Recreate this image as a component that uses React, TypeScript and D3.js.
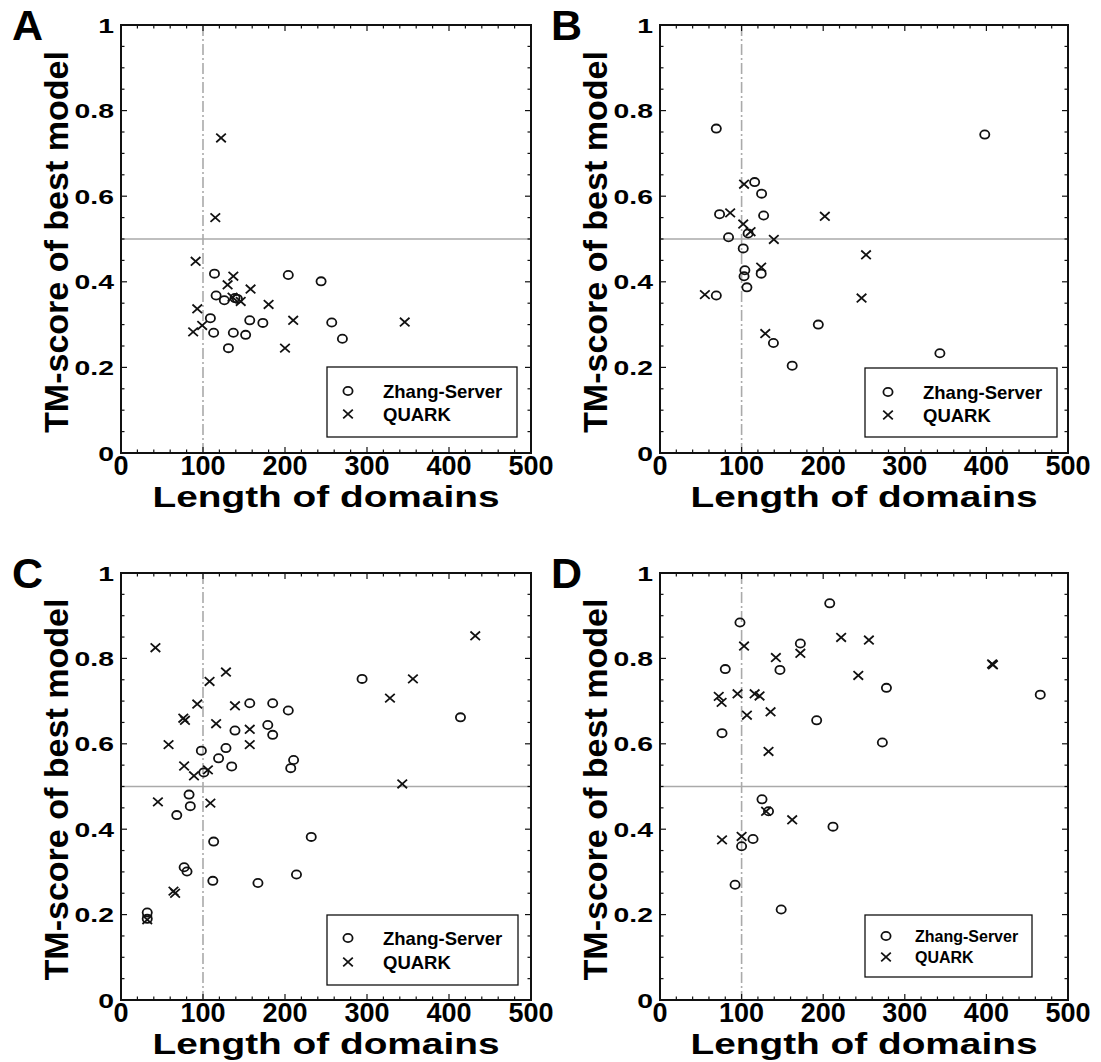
import React from "react";
import * as d3 from "d3";

// ---- data: [domain length, TM-score] ----
const zhangA: [number, number][] = [
  [114, 0.419], [204, 0.416], [244, 0.401], [116, 0.368], [126, 0.357], [139, 0.362], [142, 0.36],
  [109, 0.315], [113, 0.281], [157, 0.31], [173, 0.304], [257, 0.305], [270, 0.267], [137, 0.281],
  [152, 0.276], [131, 0.245],
];
const quarkA: [number, number][] = [
  [122, 0.736], [115, 0.55], [91, 0.448], [137, 0.413], [130, 0.393], [158, 0.383], [136, 0.364],
  [146, 0.354], [180, 0.347], [93, 0.337], [99, 0.298], [88, 0.283], [210, 0.31], [200, 0.245], [346, 0.306],
];
const zhangB: [number, number][] = [
  [69, 0.758], [398, 0.744], [116, 0.633], [124.5, 0.606], [73, 0.558], [127, 0.555], [108, 0.513],
  [84, 0.504], [102, 0.478], [104, 0.427], [124, 0.419], [103, 0.413], [106.5, 0.387], [69, 0.368],
  [194, 0.3], [139, 0.257], [162, 0.204], [343, 0.233],
];
const quarkB: [number, number][] = [
  [103, 0.628], [86, 0.561], [202, 0.553], [102, 0.535], [111, 0.517], [139.5, 0.499], [252.5, 0.463],
  [124, 0.434], [55, 0.37], [247, 0.362], [129, 0.279],
];
const zhangC: [number, number][] = [
  [294, 0.752], [157, 0.695], [185, 0.695], [204, 0.678], [414, 0.662], [179, 0.644], [139, 0.631],
  [185, 0.621], [128, 0.59], [98, 0.584], [119, 0.566], [210.5, 0.562], [135, 0.547], [207, 0.543],
  [101, 0.533], [83, 0.481], [84.5, 0.454], [68, 0.433], [113, 0.371], [232, 0.382], [77, 0.311],
  [80.5, 0.301], [112, 0.279], [167, 0.274], [214, 0.294], [32, 0.205], [32, 0.19],
];
const quarkC: [number, number][] = [
  [42, 0.825], [432, 0.853], [128, 0.768], [108, 0.746], [356, 0.752], [328, 0.707], [93, 0.693],
  [139, 0.689], [76, 0.66], [78, 0.655], [116, 0.647], [157, 0.634], [58, 0.598], [157, 0.598],
  [77, 0.548], [106, 0.539], [89, 0.525], [343, 0.506], [45, 0.464], [109, 0.461], [64, 0.255],
  [66, 0.25], [32, 0.188],
];
const zhangD: [number, number][] = [
  [208, 0.929], [98, 0.884], [172, 0.835], [80, 0.775], [147, 0.773], [277.5, 0.731], [466, 0.715],
  [192, 0.655], [76, 0.625], [272.5, 0.603], [125, 0.47], [133, 0.442], [212, 0.406], [114, 0.377],
  [100, 0.36], [92, 0.27], [148.5, 0.212],
];
const quarkD: [number, number][] = [
  [103, 0.829], [222, 0.849], [256, 0.843], [172, 0.812], [142, 0.802], [407, 0.787], [408, 0.785],
  [243, 0.76], [72, 0.711], [95, 0.717], [116, 0.717], [122, 0.712], [75.5, 0.697], [106.5, 0.667],
  [135.5, 0.675], [133, 0.582], [130, 0.442], [162, 0.422], [76, 0.375], [100, 0.383],
];

const xTicks = [0, 100, 200, 300, 400, 500];
const yTicks = [0, 0.2, 0.4, 0.6, 0.8, 1];
const yTickLabels = ["0", "0.2", "0.4", "0.6", "0.8", "1"];
const seriesNames = ["Zhang-Server", "QUARK"];
const xLabel = "Length of domains";
const yLabel = "TM-score of best model";
const thresholdY = 0.5;
const thresholdX = 100;

type Panel = {
  letter: string; left: number; top: number; w: number; h: number;
  zhang: [number, number][]; quark: [number, number][];
  legend: { x: number; y: number; w: number; h: number; font: number; tx: number; mx: number; r1: number; r2: number };
};

const panels: Panel[] = [
  { letter: "A", left: 121, top: 25, w: 410, h: 428, zhang: zhangA, quark: quarkA,
    legend: { x: 327, y: 367, w: 190, h: 70, font: 18.5, tx: 383, mx: 348, r1: 391, r2: 414 } },
  { letter: "B", left: 660, top: 25, w: 408, h: 428, zhang: zhangB, quark: quarkB,
    legend: { x: 865, y: 368, w: 192, h: 69, font: 18.5, tx: 923, mx: 888, r1: 392, r2: 415 } },
  { letter: "C", left: 121, top: 573, w: 410, h: 427, zhang: zhangC, quark: quarkC,
    legend: { x: 327, y: 915, w: 191, h: 70, font: 18.5, tx: 383, mx: 348, r1: 938, r2: 962 } },
  { letter: "D", left: 660, top: 573, w: 408, h: 427, zhang: zhangD, quark: quarkD,
    legend: { x: 865, y: 915, w: 167, h: 62, font: 16, tx: 915, mx: 886, r1: 936, r2: 957 } },
];

const FONT = "'Liberation Sans', Arial, sans-serif";

function Circle({ cx, cy }: { cx: number; cy: number }) {
  return <ellipse cx={cx} cy={cy} rx={4.6} ry={4.1} fill="none" stroke="#111" strokeWidth={1.8} />;
}
function Cross({ cx, cy }: { cx: number; cy: number }) {
  const a = 4.8, b = 4.3;
  return (
    <path d={`M${cx - a},${cy - b}L${cx + a},${cy + b}M${cx - a},${cy + b}L${cx + a},${cy - b}`}
      stroke="#111" strokeWidth={1.8} fill="none" />
  );
}

function PanelView({ p }: { p: Panel }) {
  const x = d3.scaleLinear().domain([0, 500]).range([p.left, p.left + p.w]);
  const y = d3.scaleLinear().domain([0, 1]).range([p.top + p.h, p.top]);
  const bottom = p.top + p.h;
  const right = p.left + p.w;
  const xMinor = d3.range(0, 501, 20);
  const yMinor = d3.range(0, 1.0001, 0.05);
  const L = p.legend;
  return (
    <g>
      <text x={p.left - 109} y={p.top + 15} fontFamily={FONT} fontWeight="bold" fontSize={43}>{p.letter}</text>
      {/* reference lines */}
      <line x1={p.left} x2={right} y1={y(thresholdY)} y2={y(thresholdY)} stroke="#aaa" strokeWidth={1.6} />
      <line x1={x(thresholdX)} x2={x(thresholdX)} y1={p.top} y2={bottom} stroke="#aaa" strokeWidth={1.6}
        strokeDasharray="11,3,2,3" />
      {/* ticks */}
      {xMinor.map((v) => {
        const len = v % 100 === 0 ? 6 : 3.5;
        return (
          <g key={"xt" + v}>
            <line x1={x(v)} x2={x(v)} y1={bottom} y2={bottom - len} stroke="#111" strokeWidth={1.2} />
            <line x1={x(v)} x2={x(v)} y1={p.top} y2={p.top + len} stroke="#111" strokeWidth={1.2} />
          </g>
        );
      })}
      {yMinor.map((v, i) => {
        const len = i % 4 === 0 ? 6 : 3.5;
        return (
          <g key={"yt" + i}>
            <line x1={p.left} x2={p.left + len} y1={y(v)} y2={y(v)} stroke="#111" strokeWidth={1.2} />
            <line x1={right} x2={right - len} y1={y(v)} y2={y(v)} stroke="#111" strokeWidth={1.2} />
          </g>
        );
      })}
      {/* frame */}
      <rect x={p.left} y={p.top} width={p.w} height={p.h} fill="none" stroke="#111" strokeWidth={2} />
      {/* tick labels */}
      {yTicks.map((v, i) => (
        <g key={"yl" + i} transform={`translate(${p.left - 7},${y(v) + 7.5}) scale(1.35,1)`}>
          <text textAnchor="end" fontFamily={FONT} fontWeight="bold" fontSize={21}>{yTickLabels[i]}</text>
        </g>
      ))}
      {xTicks.map((v) => (
        <text key={"xl" + v} x={x(v)} y={bottom + 21.5} textAnchor="middle" fontFamily={FONT} fontWeight="bold"
          fontSize={27}>{String(v)}</text>
      ))}
      {/* axis labels */}
      <text x={(p.left + right) / 2} y={bottom + 54} textAnchor="middle" fontFamily={FONT} fontWeight="bold"
        fontSize={29} textLength={347} lengthAdjust="spacingAndGlyphs">{xLabel}</text>
      <text transform={`translate(${p.left - 53},${(p.top + bottom) / 2 + 3}) rotate(-90)`} textAnchor="middle"
        fontFamily={FONT} fontWeight="bold" fontSize={34} textLength={382} lengthAdjust="spacingAndGlyphs">{yLabel}</text>
      {/* points */}
      {p.zhang.map((d, i) => <Circle key={"z" + i} cx={x(d[0])} cy={y(d[1])} />)}
      {p.quark.map((d, i) => <Cross key={"q" + i} cx={x(d[0])} cy={y(d[1])} />)}
      {/* legend */}
      <rect x={L.x} y={L.y} width={L.w} height={L.h} fill="#fff" stroke="#111" strokeWidth={1.3} />
      <Circle cx={L.mx} cy={L.r1} />
      <Cross cx={L.mx} cy={L.r2} />
      <text x={L.tx} y={L.r1 + L.font * 0.36} fontFamily={FONT} fontWeight="bold" fontSize={L.font}>{seriesNames[0]}</text>
      <text x={L.tx} y={L.r2 + L.font * 0.36} fontFamily={FONT} fontWeight="bold" fontSize={L.font}>{seriesNames[1]}</text>
    </g>
  );
}

export default function App() {
  return (
    <svg width={1101} height={1062} style={{ position: "absolute", left: 0, top: 0, background: "#fff" }}>
      <rect width={1101} height={1062} fill="#fff" />
      {panels.map((p) => <PanelView key={p.letter} p={p} />)}
    </svg>
  );
}
